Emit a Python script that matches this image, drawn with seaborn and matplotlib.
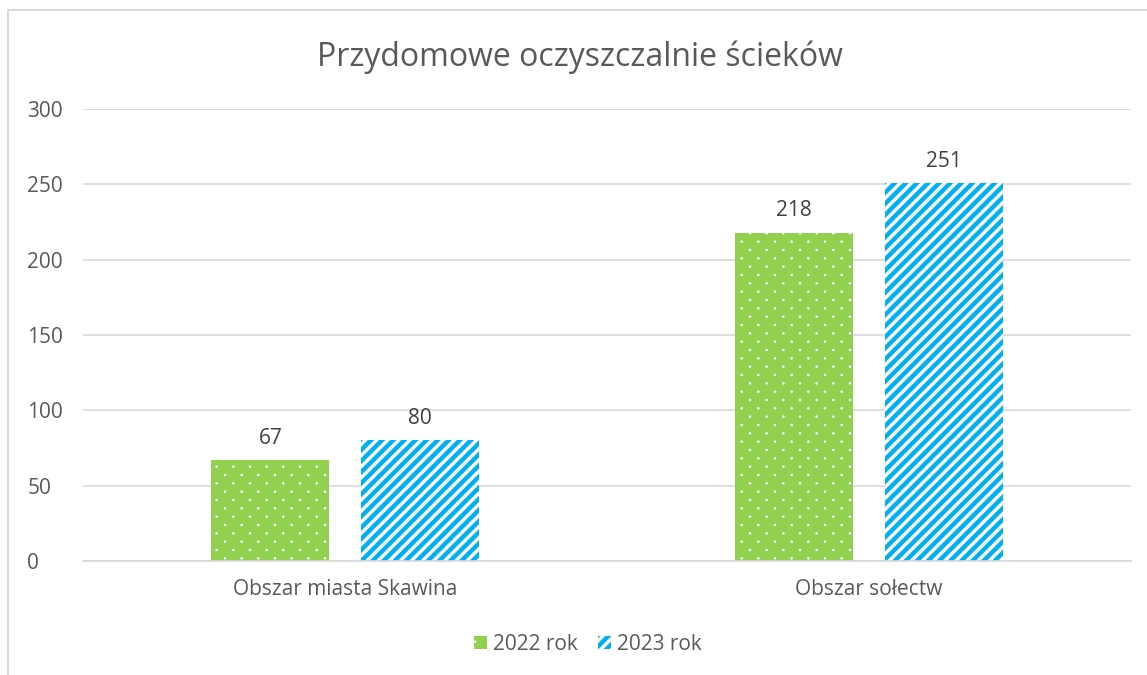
import matplotlib
matplotlib.use("Agg")
import matplotlib.pyplot as plt
import matplotlib.hatch as mhatch
from matplotlib.path import Path
from matplotlib.patches import Patch
import seaborn as sns
import pandas as pd
import numpy as np

categories = ["Obszar miasta Skawina", "Obszar sołectw"]
years = ["2022 rok", "2023 rok"]
values_2022 = [67, 218]
values_2023 = [80, 251]
y_ticks = [0, 50, 100, 150, 200, 250, 300]


# small dots in a diamond grid, like the Excel "5%" pattern
class DiamondDots(mhatch.HatchPatternBase):
    radius = 0.007
    filled = True

    def __init__(self, hatch, density):
        n = hatch.count('.') * density
        self.num_cols = n
        self.num_rows = 2 * n
        circle = Path.unit_circle()
        self.shape_vertices = circle.vertices
        self.shape_codes = circle.codes
        if n == 0:
            self.num_shapes = 0
        else:
            self.num_shapes = (self.num_rows // 2 + 1) * (n + 1) + (self.num_rows // 2) * n
        self.num_vertices = self.num_shapes * len(self.shape_vertices)

    def set_vertices_and_codes(self, vertices, codes):
        n = self.num_cols
        step = 1.0 / n
        verts = []
        cds = []
        for row in range(self.num_rows + 1):
            if row % 2 == 0:
                cols = np.linspace(0, 1, n + 1)
            else:
                cols = np.linspace(step / 2, 1 - step / 2, n)
            for c in cols:
                verts.append(self.shape_vertices * self.radius + [c, row * step / 2])
                cds.append(self.shape_codes)
        np.concatenate(verts, out=vertices)
        np.concatenate(cds, out=codes)


mhatch._hatch_types = [DiamondDots if t is mhatch.SmallFilledCircles else t
                       for t in mhatch._hatch_types]

df = pd.DataFrame({
    "obszar": categories * 2,
    "rok": [years[0]] * 2 + [years[1]] * 2,
    "liczba": values_2022 + values_2023,
})

sns.set_theme(style="white")
plt.rcParams["font.family"] = ["Open Sans", "DejaVu Sans"]
plt.rcParams["hatch.linewidth"] = 3.2

green = "#92D050"
blue = "#00B0F0"


def thin_hatch(p, lw):
    if hasattr(p, "set_hatch_linewidth"):
        p.set_hatch_linewidth(lw)
    else:
        p._hatch_linewidth = lw


fig = plt.figure(figsize=(11.47, 6.75), dpi=100)
ax = fig.add_axes([83 / 1147, 1 - 561 / 675, 1048 / 1147, 452 / 675])

sns.barplot(data=df, x="obszar", y="liczba", hue="rok", order=categories,
            hue_order=years, palette=[green, "white"], width=0.57, gap=0.21,
            legend=False, ax=ax)

for bar in ax.containers[0]:
    bar.set_facecolor(green)
    bar.set_edgecolor("white")
    bar.set_hatch(".")
    bar.set_linewidth(0)
    thin_hatch(bar, 0.8)
for bar in ax.containers[1]:
    bar.set_facecolor("white")
    bar.set_edgecolor(blue)
    bar.set_hatch("///")
    bar.set_linewidth(0)

for cont in ax.containers:
    ax.bar_label(cont, padding=8, fontsize=15, color="#404040")

ax.set_ylim(0, 300)
ax.set_yticks(y_ticks)
ax.set_xlim(-0.5, 1.5)
ax.set_xlabel("")
ax.set_ylabel("")
ax.tick_params(axis="both", length=0, labelsize=15, labelcolor="#595959")
ax.tick_params(axis="y", pad=40)
ax.tick_params(axis="x", pad=13)
for lab in ax.get_yticklabels():
    lab.set_horizontalalignment("left")
ax.yaxis.grid(True, color="#D9D9D9", linewidth=1.2)
ax.set_axisbelow(True)
sns.despine(ax=ax, left=True, top=True, right=True)
ax.spines["bottom"].set_color("#D9D9D9")

fig.text(0.5 + 6 / 1147, 1 - 57 / 675, "Przydomowe oczyszczalnie ścieków", ha="center",
         va="center", fontsize=23, color="#595959")

h1 = Patch(facecolor=green, edgecolor="white", hatch=".", linewidth=0, label=years[0])
h2 = Patch(facecolor="white", edgecolor=blue, hatch="///", linewidth=0, label=years[1])
leg = fig.legend(handles=[h1, h2], loc="center", bbox_to_anchor=(588 / 1147, 1 - 644 / 675), ncol=2,
                 frameon=False, fontsize=15, labelcolor="#595959", handlelength=0.6,
                 handleheight=0.6, handletextpad=0.3, columnspacing=1.0)
for p in leg.get_patches():
    if p.get_hatch() == ".":
        thin_hatch(p, 0.8)

# chart frame (left and top edges visible)
fig.add_artist(plt.Line2D([8 / 1147, 8 / 1147], [0, 1 - 10 / 675], color="#D9D9D9",
                          linewidth=1.5, transform=fig.transFigure))
fig.add_artist(plt.Line2D([8 / 1147, 1], [1 - 10 / 675, 1 - 10 / 675], color="#D9D9D9",
                          linewidth=1.5, transform=fig.transFigure))

fig.savefig("out.png", dpi=100)
